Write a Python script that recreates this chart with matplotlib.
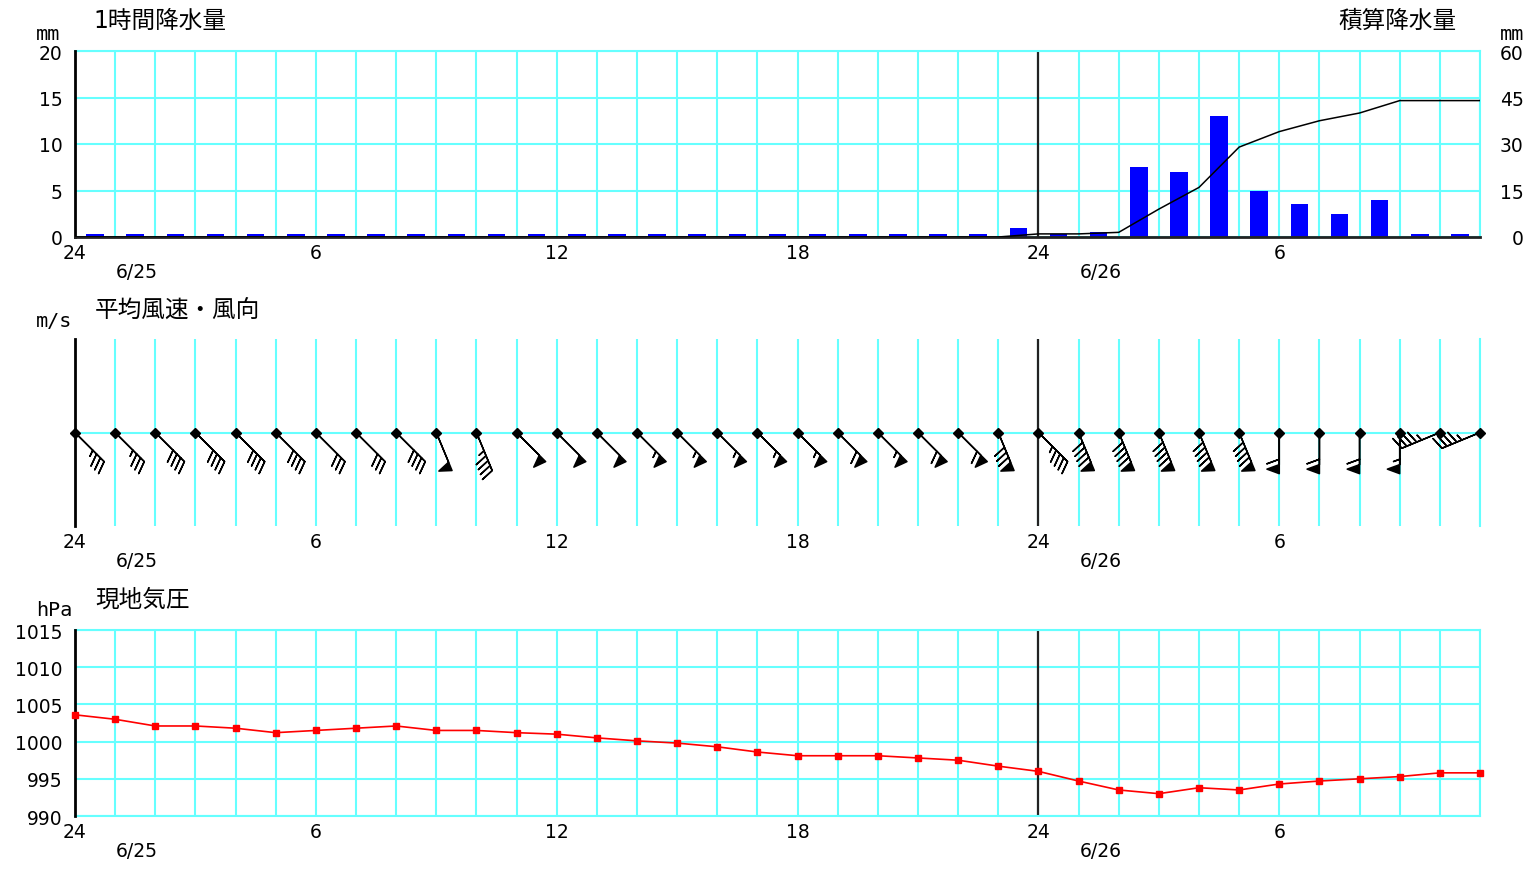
import matplotlib
matplotlib.use('Agg')
import matplotlib.pyplot as plt
import numpy as np

plt.rcParams['font.family'] = ['DejaVu Sans', 'Noto Sans CJK JP']

# ---------------- data ----------------
hours = np.arange(0, 36)                      # 0 = 24時 (6/24), 35 = 11時 (6/26)
xtick_pos = [0, 6, 12, 18, 24, 30]
xtick_labels = ['24', '6', '12', '18', '24', '6']
date_labels = ['6/25', '6/26']
date_pos = [1.55, 25.55]

# 1時間降水量 (mm), hour ending 1..35
precip_hours = np.arange(1, 36)
precip = [0.0] * 23 + [1.0, 0.0, 0.5, 7.5, 7.0, 13.0, 5.0, 3.5, 2.5, 4.0, 0.0, 0.0]

# 現地気圧 (hPa)
pressure = [1003.6, 1003.0, 1002.1, 1002.1, 1001.8, 1001.2, 1001.5, 1001.8, 1002.1,
            1001.5, 1001.5, 1001.2, 1001.0, 1000.5, 1000.1, 999.8, 999.3, 998.6,
            998.1, 998.1, 998.1, 997.8, 997.5, 996.7, 996.0, 994.7, 993.5, 993.0,
            993.8, 993.5, 994.3, 994.7, 995.0, 995.3, 995.8, 995.8]

# 風向 (deg, direction wind blows from) and 平均風速 (m/s)
wind_dir = [135] * 9 + [157.5, 157.5] + [135] * 12 + [157.5, 135] + [157.5] * 5 + [180] * 4 + [247.5, 247.5]
wind_speed = [3.5, 3.5, 4.0, 4.0, 4.0, 4.0, 3.0, 3.0, 4.0,
              5.0, 4.5, 5.0, 5.0, 5.0, 5.5, 5.5, 5.5, 5.5, 5.5, 6.0, 5.5, 6.0, 6.0,
              8.0, 4.5, 9.0, 9.0, 9.0, 9.0, 9.0, 6.0, 6.0, 6.0, 5.5, 4.5, 4.5]

# ---------------- style ----------------
CYAN = '#66ffff'
W, H = 1531, 870
fig = plt.figure(figsize=(W / 100, H / 100), dpi=100)


def axrect(l, t, r, b):
    return [l / W, 1 - b / H, (r - l) / W, (b - t) / H]


def ftext(x, y, s, **kw):
    fig.text(x / W, 1 - y / H, s, **kw)


ax1 = fig.add_axes(axrect(75, 52, 1480, 238))
ax2 = fig.add_axes(axrect(75, 340, 1480, 527))
ax3 = fig.add_axes(axrect(75, 631, 1480, 817))

for ax in (ax1, ax2, ax3):
    ax.set_xlim(0, 35)
    ax.set_xticks(xtick_pos)
    ax.set_xticklabels(xtick_labels)
    ax.set_xticks(hours, minor=True)
    ax.grid(True, which='both', axis='x', color=CYAN, lw=1.5, zorder=0)
    ax.set_axisbelow(True)
    ax.tick_params(axis='both', which='both', length=0, labelsize=13.5, pad=4)
    ax.tick_params(axis='y', pad=9)
    ax.axvline(24, color='#222222', lw=1.6, zorder=1)
    ax.spines['left'].set_color('black')
    ax.spines['left'].set_linewidth(2)
    ax.spines['left'].set_zorder(3)
    for s in ('top', 'right', 'bottom'):
        ax.spines[s].set_color(CYAN)
        ax.spines[s].set_linewidth(1.5)
    for p, lab in zip(date_pos, date_labels):
        ax.annotate(lab, xy=(p, 0), xycoords=('data', 'axes fraction'),
                    xytext=(0, -25), textcoords='offset points',
                    ha='center', va='center', fontsize=13.5)

# ---- panel 1: precipitation ----
ax1.set_ylim(0, 20)
ax1.set_yticks([0, 5, 10, 15, 20])
ax1.grid(True, axis='y', color=CYAN, lw=1.5, zorder=0)
ax1.spines['bottom'].set_color('#222222')
ax1.spines['bottom'].set_linewidth(2)
ax1.spines['bottom'].set_zorder(3)
precip_arr = np.array(precip)
bar_heights = np.where(precip_arr == 0, 0.35, precip_arr)
ax1.bar(precip_hours - 0.5, bar_heights, width=0.44, color='#0000ff', zorder=2)

ax1r = ax1.twinx()
ax1r.set_ylim(0, 60)
ax1r.set_yticks([0, 15, 30, 45, 60])
ax1r.tick_params(axis='y', length=0, labelsize=13.5, pad=31.5)
for lab in ax1r.get_yticklabels():
    lab.set_horizontalalignment('right')
for s in ax1r.spines.values():
    s.set_visible(False)
cum = np.concatenate([[0.0], np.cumsum(precip_arr)])
ax1r.plot(hours, cum, color='black', lw=1.1, zorder=4)

ftext(93, 21, '1時間降水量', fontsize=17, va='center', ha='left')
ftext(1457, 21, '積算降水量', fontsize=17, va='center', ha='right')
ftext(48, 34, 'mm', fontsize=14.5, va='center', ha='center', family='DejaVu Sans Mono')
ftext(1512, 34, 'mm', fontsize=14.5, va='center', ha='center', family='DejaVu Sans Mono')

# ---- panel 2: wind ----
ax2.set_ylim(-1, 1)
ax2.set_yticks([])
ax2.spines['top'].set_visible(False)
ax2.spines['bottom'].set_visible(False)
ax2.axhline(0, color=CYAN, lw=1.5, zorder=1)
wd = np.deg2rad(np.array(wind_dir))
ws = np.array(wind_speed)
u = -ws * np.sin(wd)
v = -ws * np.cos(wd)
ax2.barbs(hours, np.zeros_like(ws), u, v, length=7.7,
          barb_increments=dict(half=0.5, full=1, flag=5),
          sizes=dict(spacing=0.13, height=0.3, width=0.22),
          color='black', lw=1.1, zorder=4, clip_on=False)
ax2.plot(hours, np.zeros_like(ws), 'D', color='black', ms=5, zorder=5, clip_on=False)

ftext(95, 311, '平均風速・風向', fontsize=17, va='center', ha='left')
ftext(54, 322, 'm/s', fontsize=14.5, va='center', ha='center', family='DejaVu Sans Mono')

# ---- panel 3: pressure ----
ax3.set_ylim(990, 1015)
ax3.set_yticks([990, 995, 1000, 1005, 1010, 1015])
ax3.grid(True, axis='y', color=CYAN, lw=1.5, zorder=0)
ax3.plot(hours, pressure, color='#ff0000', lw=1.2, marker='s', ms=4, zorder=4, clip_on=False)

ftext(95, 600, '現地気圧', fontsize=17, va='center', ha='left')
ftext(54, 611, 'hPa', fontsize=14.5, va='center', ha='center', family='DejaVu Sans Mono')

fig.savefig('out.png', dpi=100)
